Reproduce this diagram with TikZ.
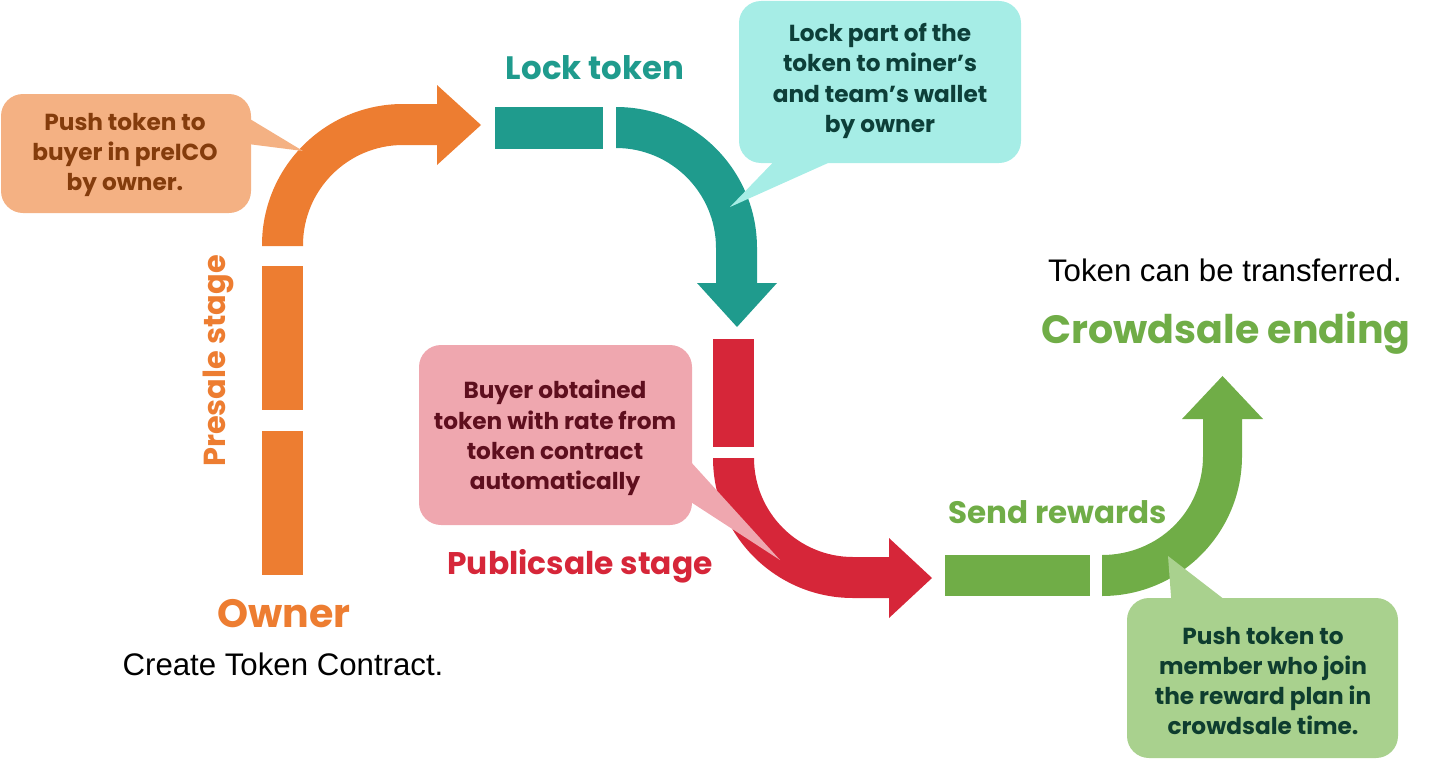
\documentclass[tikz,border=0pt]{standalone}
\usepackage{fontspec}
\setmainfont{Liberation Sans}
\newfontfamily\gfont{Poppins}
\definecolor{corange}{HTML}{ED7D31}
\definecolor{cteal}{HTML}{1F9B8D}
\definecolor{cred}{HTML}{D62639}
\definecolor{cgreen}{HTML}{70AD47}
\definecolor{borange}{HTML}{F4B183}
\definecolor{bteal}{HTML}{A6EDE6}
\definecolor{bred}{HTML}{EFA7AF}
\definecolor{bgreen}{HTML}{A9D18E}
\definecolor{torange}{HTML}{843C0C}
\definecolor{tteal}{HTML}{0D3F39}
\definecolor{tred}{HTML}{5E0F1E}
\definecolor{tgreen}{HTML}{0E3D2F}
\begin{document}
\begin{tikzpicture}[x=1pt,y=-1pt,
  lbl/.style={inner sep=0pt, font=\gfont\bfseries\fontsize{#1}{#1}\selectfont},
  plain/.style={inner sep=0pt, font=\fontsize{31.2}{31.2}\selectfont},
  ctext/.style={inner sep=0pt, align=center, text=#1, font=\gfont\bfseries\fontsize{23.2}{30.3}\selectfont},
  bubble/.style={fill=#1, draw=none, rounded corners=22pt}
]
\useasboundingbox (0,0) rectangle (1447,760);

% ---------- orange (presale) ----------
\fill[corange] (262,431) rectangle (303,575);
\fill[corange] (262,266) rectangle (303,410);
\fill[corange] (262,246) -- (262,245) .. controls (262,167.1) and (325.1,104) .. (403,104)
  -- (437,104) -- (437,85) -- (481,125) -- (437,165) -- (437,145) -- (403,145)
  .. controls (347.8,145) and (303,189.8) .. (303,245) -- (303,246) -- cycle;

% ---------- teal (lock token) ----------
\fill[cteal] (495,107) rectangle (603,149);
\fill[cteal] (616,107) .. controls (693.9,107) and (757,170.1) .. (757,248)
  -- (757,283) -- (777,283) -- (737,327) -- (697,283) -- (716,283) -- (716,248)
  .. controls (716,192.8) and (671.2,148) .. (616,148) -- cycle;

% ---------- red (publicsale) ----------
\fill[cred] (713,339) rectangle (754,447);
\fill[cred] (713,458) .. controls (713,535.3) and (775.7,598) .. (853,598)
  -- (889,598) -- (889,618) -- (932,578) -- (889,538) -- (889,557) -- (853,557)
  .. controls (798.3,557) and (754,512.7) .. (754,458) -- cycle;

% ---------- green (send rewards) ----------
\fill[cgreen] (945,555) rectangle (1090,596);
\fill[cgreen] (1102,596) .. controls (1179.3,596) and (1242,533.3) .. (1242,456)
  -- (1242,419) -- (1263,419) -- (1222.5,376) -- (1182,419) -- (1203,419) -- (1203,456)
  .. controls (1203,511.8) and (1157.8,555) .. (1102,555) -- cycle;

% ---------- callouts ----------
\fill[bubble=borange] (1,94) rectangle (251,213);
\fill[borange] (240,113) -- (303,151) -- (240,143) -- cycle;
\node[ctext=torange] (c1) at (125,155) {Push token to\\buyer in preICO\\by owner.};

\fill[bubble=bteal] (739,1) rectangle (1021,163);
\fill[bteal] (785,150) -- (730,207) -- (857,150) -- cycle;
\node[ctext=tteal] (c2) at (880,81) {Lock part of the\\token to miner’s\\and team’s wallet\\by owner};

\fill[bubble=bred] (419,345) rectangle (692,525);
\fill[bred] (680,450) -- (780,560) -- (680,495) -- cycle;
\node[ctext=tred] (c3) at (555,438) {Buyer obtained\\token with rate from\\token contract\\automatically};

\fill[bubble=bgreen] (1127,598) rectangle (1398,758);
\fill[bgreen] (1172,610) -- (1168,556) -- (1238,610) -- cycle;
\node[ctext=tgreen] (c4) at (1263,681) {Push token to\\member who join\\the reward plan in\\crowdsale time.};

% ---------- labels ----------
\node[lbl=32.4, text=cteal] (locklbl) at (595,68) {Lock token};
\node[lbl=30.4, text=corange, rotate=90] (prelbl) at (218,361) {Presale stage};
\node[lbl=39.5, text=corange] (ownerlbl) at (284,614) {Owner};
\node[plain] (createlbl) at (283,664) {Create Token Contract.};
\node[lbl=31.3, text=cred] (publbl) at (580,566) {Publicsale stage};
\node[lbl=31, text=cgreen] (sendlbl) at (1058,512) {Send rewards};
\node[plain] (tokenlbl) at (1225,270) {Token can be transferred.};
\node[lbl=39.5, text=cgreen] (crowdlbl) at (1226,333) {Crowdsale ending};
\end{tikzpicture}
\end{document}
